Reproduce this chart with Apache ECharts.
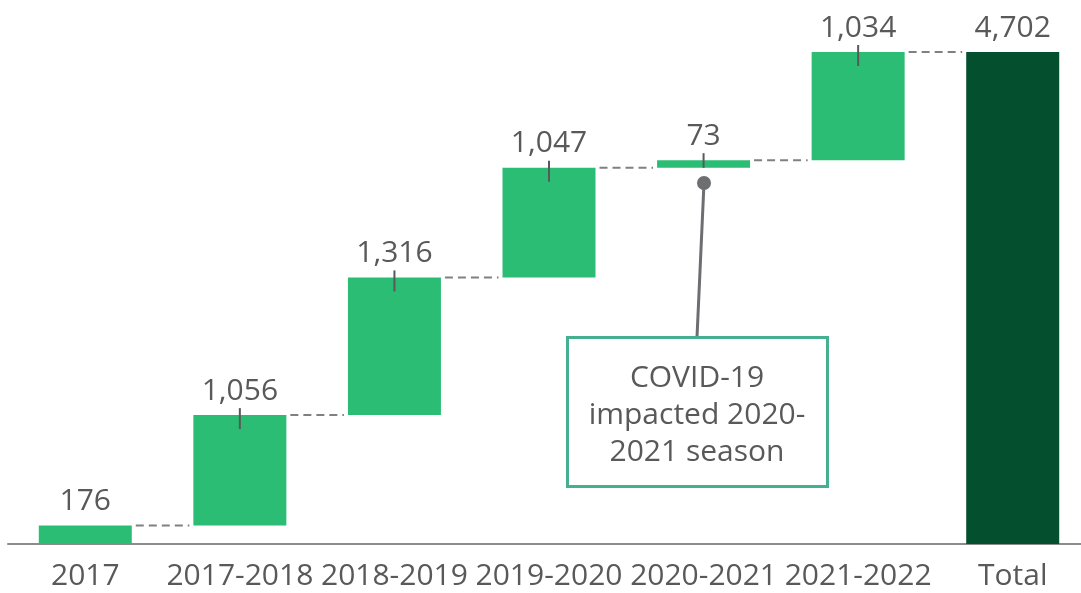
<!DOCTYPE html>
<html>
<head>
<meta charset="utf-8">
<script src="https://cdn.jsdelivr.net/npm/echarts@6/dist/echarts.min.js"></script>
<style>
html,body{margin:0;padding:0;background:#fff;}
#chart{width:1081px;height:593px;}
</style>
</head>
<body>
<div id="chart"></div>
<script>
const categories = ['2017', '2017-2018', '2018-2019', '2019-2020', '2020-2021', '2021-2022', 'Total'];
const increments = [176, 1056, 1316, 1047, 73, 1034];
const totalValue = 4702;
const calloutLines = ['COVID-19', 'impacted 2020-', '2021 season'];

const FONT = 'Open Sans';
const TEXT = '#595959';
const GREEN = '#2bbd74';
const DARK = '#04502e';

// build waterfall stacks
const bases = [];
const tops = [];
let run = 0;
increments.forEach(v => { bases.push(run); run += v; tops.push(run); });
bases.push(0); tops.push(totalValue);
const values = increments.concat([totalValue]);

const chart = echarts.init(document.getElementById('chart'));
const BARW = 93;

chart.setOption({
  animation: false,
  grid: { left: 8, width: 1082, top: 52, bottom: 49, outerBoundsMode: 'none', containLabel: false },
  xAxis: {
    type: 'category',
    data: categories,
    axisLine: { lineStyle: { color: '#8c8c8c', width: 2 } },
    axisTick: { show: false },
    axisLabel: { color: TEXT, fontFamily: FONT, fontSize: 30, lineHeight: 30, margin: 17, interval: 0 }
  },
  yAxis: { type: 'value', min: 0, max: totalValue, show: false, splitLine: { show: false } },
  series: [
    {
      type: 'bar', stack: 'w', barWidth: BARW, silent: true,
      itemStyle: { color: 'transparent' },
      data: bases
    },
    {
      type: 'bar', stack: 'w', barWidth: BARW,
      data: values.map((v, i) => ({
        value: v,
        itemStyle: { color: i === values.length - 1 ? DARK : GREEN }
      })),
      label: {
        show: true, position: 'top', distance: 9,
        color: TEXT, fontFamily: FONT, fontSize: 30, lineHeight: 30,
        formatter: p => p.value.toLocaleString('en-US')
      }
    },
    {
      type: 'custom', silent: true, z: 10,
      data: categories.map((c, i) => [i, bases[i], tops[i]]),
      renderItem: function (params, api) {
        const i = api.value(0);
        const topPt = api.coord([i, api.value(2)]);
        const botPt = api.coord([i, api.value(1)]);
        const band = api.size([1, 0])[0];
        const half = BARW / 2;
        const children = [];
        if (i > 0 && i < categories.length - 1) {
          const y2 = Math.min(topPt[1] + 14, botPt[1]);
          children.push({
            type: 'line',
            shape: { x1: topPt[0], y1: topPt[1] - 7, x2: topPt[0], y2: y2 },
            style: { stroke: TEXT, lineWidth: 2 }
          });
        }
        if (i < categories.length - 1) {
          const y = topPt[1];
          children.push({
            type: 'line',
            shape: { x1: topPt[0] + half + 4, y1: y, x2: topPt[0] + band - half - 4, y2: y },
            style: { stroke: '#808080', lineWidth: 2, lineDash: [8, 5] }
          });
        }
        return { type: 'group', children: children };
      }
    }
  ],
  graphic: [
    {
      type: 'line', silent: true,
      shape: { x1: 704, y1: 183, x2: 697, y2: 337 },
      style: { stroke: '#6d6e71', lineWidth: 3 }
    },
    {
      type: 'circle', silent: true,
      shape: { cx: 704, cy: 183, r: 7 },
      style: { fill: '#6d6e71' }
    },
    {
      type: 'rect', silent: true,
      shape: { x: 567.5, y: 337.5, width: 260, height: 149 },
      style: { fill: '#fff', stroke: '#45b08f', lineWidth: 3 }
    },
    {
      type: 'text', silent: true,
      x: 697, y: 415,
      style: {
        text: calloutLines.join('\n'),
        fill: TEXT, font: '30px "' + FONT + '"',
        align: 'center', verticalAlign: 'middle', lineHeight: 37
      }
    }
  ]
});
</script>
</body>
</html>
